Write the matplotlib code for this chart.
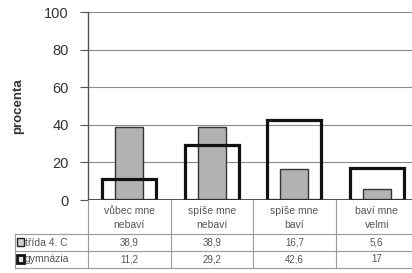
import matplotlib
matplotlib.use("Agg")
from matplotlib import pyplot as plt
from matplotlib.patches import Rectangle
from matplotlib.lines import Line2D

categories = ["vůbec mne\nnebaví", "spíše mne\nnebaví", "spíše mne\nbaví", "baví mne\nvelmi"]
trida = [38.9, 38.9, 16.7, 5.6]
gymnazia = [11.2, 29.2, 42.6, 17]
trida_labels = ["38,9", "38,9", "16,7", "5,6"]
gymnazia_labels = ["11,2", "29,2", "42,6", "17"]
series_names = ["třída 4. C", "gymnázia"]
yticks = [0, 20, 40, 60, 80, 100]

plt.rcParams['font.family'] = ['Liberation Sans', 'DejaVu Sans']

W, H = 412, 273
fig = plt.figure(figsize=(W / 100, H / 100), dpi=100)

# axes in pixel terms: left 88, top 12, bottom 200, one category ~82.5 px
ax_l, ax_t, ax_b = 88, 12, 200
cat_w = 82.5
ax_w = cat_w * len(categories)
ax = fig.add_axes([ax_l / W, (H - ax_b) / H, ax_w / W, (ax_b - ax_t) / H])

x = list(range(len(categories)))
ax.bar(x, trida, width=0.34, color="#b2b2b2", edgecolor="#333333", linewidth=1.0, zorder=2)
ax.bar(x, gymnazia, width=0.66, facecolor="none", edgecolor="#111111", linewidth=2.3, zorder=3)

ax.set_xlim(-0.5, len(categories) - 0.5)
ax.set_ylim(0, 100)
ax.set_yticks(yticks)
ax.set_yticklabels([str(t) for t in yticks], fontsize=10.5, color="#333333")
ax.tick_params(axis="y", length=6, width=0.8, color="#555555", pad=8)
ax.tick_params(axis="x", length=0, labelbottom=False)
ax.yaxis.grid(True, color="#8a8a8a", linewidth=0.8)
ax.set_axisbelow(True)
for side in ["top", "right", "bottom"]:
    ax.spines[side].set_visible(False)
ax.spines["left"].set_color("#555555")
ax.spines["left"].set_linewidth(1.0)
ax.axhline(0, color="#333333", linewidth=1.2, zorder=4)

ax.set_ylabel("procenta", fontsize=9.5, fontweight="bold", color="#333333", labelpad=14)

# data table below the plot, built in figure pixel coords
def fx(px):
    return px / W

def fy(py):
    return 1 - py / H

line_kw = dict(color="#9a9a9a", linewidth=0.8, transform=fig.transFigure)
row_top, row_1, row_2, row_bot = 200, 234, 251, 268
tab_left = 15

for yp in [row_1, row_2, row_bot]:
    fig.add_artist(Line2D([fx(tab_left), fx(ax_l + ax_w)], [fy(yp)] * 2, **line_kw))
fig.add_artist(Line2D([fx(tab_left)] * 2, [fy(row_1), fy(row_bot)], **line_kw))
for i in range(len(categories) + 1):
    xp = ax_l + i * cat_w
    fig.add_artist(Line2D([fx(xp)] * 2, [fy(row_top), fy(row_bot)], **line_kw))

txt_kw = dict(color="#555555", ha="center", va="center", transform=fig.transFigure)
for i, cat in enumerate(categories):
    xc = ax_l + (i + 0.5) * cat_w
    fig.text(fx(xc), fy((row_top + row_1) / 2 + 1), cat, fontsize=7.5, linespacing=1.4, **txt_kw)
    fig.text(fx(xc), fy((row_1 + row_2) / 2), trida_labels[i], fontsize=7, **txt_kw)
    fig.text(fx(xc), fy((row_2 + row_bot) / 2), gymnazia_labels[i], fontsize=7, **txt_kw)

# legend keys in the row labels
fig.add_artist(Rectangle((fx(17), fy(246)), fx(7), 8 / H, facecolor="#d0d0d0",
                         edgecolor="#222222", linewidth=1.0, transform=fig.transFigure))
fig.add_artist(Rectangle((fx(17), fy(263)), fx(7), 8 / H, facecolor="#e0e0e0",
                         edgecolor="#111111", linewidth=2.0, transform=fig.transFigure))
fig.text(fx(25), fy((row_1 + row_2) / 2), series_names[0], fontsize=7.5, color="#555555",
         ha="left", va="center", transform=fig.transFigure)
fig.text(fx(25), fy((row_2 + row_bot) / 2), series_names[1], fontsize=7.5, color="#555555",
         ha="left", va="center", transform=fig.transFigure)

fig.savefig("out.png", dpi=100)
